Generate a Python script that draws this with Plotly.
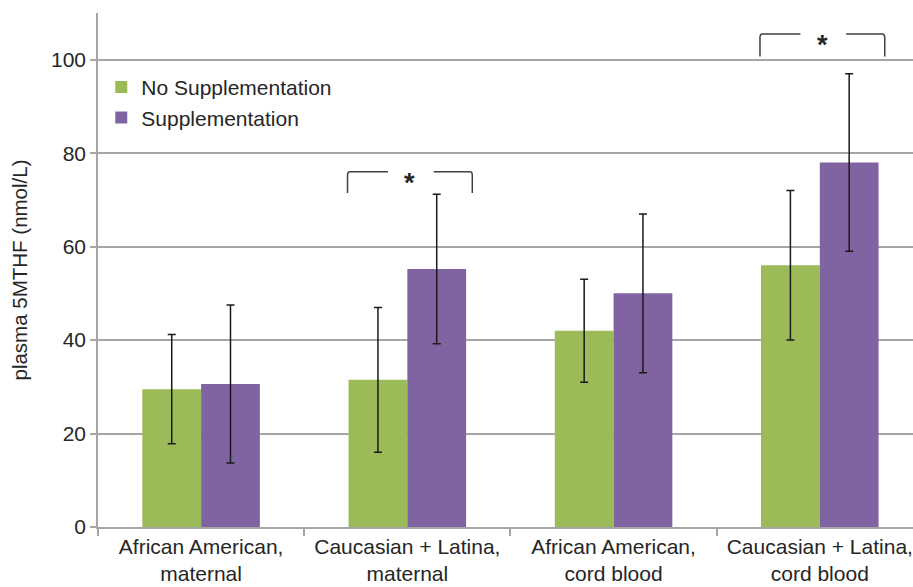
import plotly.graph_objects as go

# Plasma 5-MTHF by group and supplementation status
categories = [
    "African American,<br>maternal",
    "Caucasian + Latina,<br>maternal",
    "African American,<br>cord blood",
    "Caucasian + Latina,<br>cord blood",
]
no_supp_mean = [29.5, 31.5, 42.0, 56.0]
no_supp_sd = [11.7, 15.5, 11.0, 16.0]
supp_mean = [30.6, 55.2, 50.0, 78.0]
supp_sd = [16.9, 16.0, 17.0, 19.0]

# significance brackets: (category index, bracket foot, bracket top)
sig_brackets = [(1, 71.5, 76.0), (3, 100.7, 105.5)]

GREEN = "#9BBB59"
PURPLE = "#8064A2"
GRID = "#A6A6A6"
TEXT = "#262626"
FONT = "Liberation Sans, Arial, sans-serif"

fig = go.Figure()
fig.add_trace(go.Bar(
    x=categories, y=no_supp_mean, name="No Supplementation",
    marker=dict(color=GREEN, line=dict(width=0)),
    error_y=dict(type="data", array=no_supp_sd, visible=True,
                 color="#1a1a1a", thickness=1.5, width=4),
))
fig.add_trace(go.Bar(
    x=categories, y=supp_mean, name="Supplementation",
    marker=dict(color=PURPLE, line=dict(width=0)),
    error_y=dict(type="data", array=supp_sd, visible=True,
                 color="#1a1a1a", thickness=1.5, width=4),
))

# brackets with a star over the compared pair
for idx, foot, top in sig_brackets:
    xl, xr = idx - 0.29, idx + 0.315
    gl, gr = idx - 0.094, idx + 0.128
    r = 0.012
    line = dict(color="#404040", width=1.5)
    fig.add_shape(type="path", xref="x", yref="y", line=line,
                  path=f"M {xl} {foot} L {xl} {top - 0.8} Q {xl} {top} {xl + r} {top} L {gl} {top}")
    fig.add_shape(type="path", xref="x", yref="y", line=line,
                  path=f"M {gr} {top} L {xr - r} {top} Q {xr} {top} {xr} {top - 0.8} L {xr} {foot}")
    fig.add_annotation(x=idx + 0.011, y=top + 1.3, text="<b>*</b>", showarrow=False,
                       xref="x", yref="y", yanchor="top",
                       font=dict(size=27, color=TEXT, family=FONT))

fig.update_layout(
    width=913, height=587,
    margin=dict(l=98, r=0, t=13, b=60),
    plot_bgcolor="white", paper_bgcolor="white",
    barmode="group", bargap=0.43, bargroupgap=0,
    font=dict(family=FONT, size=21, color=TEXT),
    showlegend=True,
    legend=dict(x=0.004, y=0.895, xanchor="left", yanchor="top",
                bgcolor="rgba(0,0,0,0)", font=dict(size=21, color=TEXT),
                tracegroupgap=0, itemwidth=30),
)
fig.update_xaxes(
    type="category", range=[-0.5, 3.452],
    tickson="boundaries", ticks="outside", ticklen=7, tickcolor=GRID, tickwidth=1.5,
    showline=True, linecolor=GRID, linewidth=1.5,
    showgrid=False, zeroline=False,
    tickfont=dict(size=21, color=TEXT),
)
fig.update_yaxes(
    range=[0, 110], tickvals=[0, 20, 40, 60, 80, 100],
    ticks="outside", ticklen=6, tickcolor=GRID, tickwidth=1.5,
    showline=True, linecolor=GRID, linewidth=1.5,
    showgrid=True, gridcolor=GRID, gridwidth=1.5, zeroline=False,
    tickfont=dict(size=21, color=TEXT),
    title=dict(text="plasma 5MTHF (nmol/L)", font=dict(size=20.5, color=TEXT), standoff=18),
)

fig.write_html("out.html")
